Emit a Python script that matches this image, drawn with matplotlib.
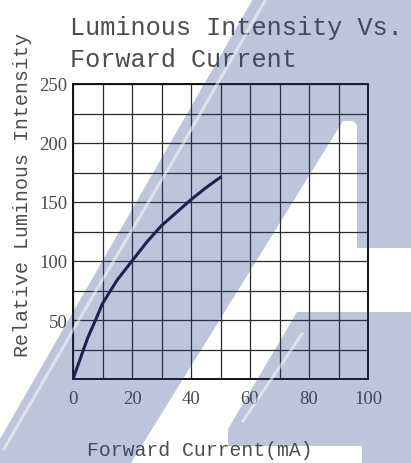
import numpy as np
import matplotlib
matplotlib.use("Agg")
import matplotlib.pyplot as plt
from matplotlib.patches import Polygon
from matplotlib.lines import Line2D

# data
current = [0, 2, 5, 8, 10, 15, 20, 25, 30, 35, 40, 45, 50]
intensity = [0, 14, 35, 52, 64, 84, 100, 116, 130, 141, 152, 162, 171]

x_ticks = [0, 10, 20, 30, 40, 50, 60, 70, 80, 90, 100]
x_labels = ["0", "", "20", "", "40", "", "60", "", "80", "", "100"]
y_ticks = [0, 25, 50, 75, 100, 125, 150, 175, 200, 225, 250]
y_labels = ["", "", "50", "", "100", "", "150", "", "200", "", "250"]

W, H = 411, 464
FONT = "Liberation Mono"
NUMFONT = "Liberation Serif"
TXT = "#4d4d4d"

fig = plt.figure(figsize=(W / 100, H / 100), dpi=100)
ax = fig.add_axes([73 / W, 1 - 380 / H, 295 / W, 295 / H])

ax.plot(current, intensity, color="#141a33", lw=2.2, solid_capstyle="round", zorder=3)

ax.set_xlim(0, 100)
ax.set_ylim(0, 250)
ax.set_xticks(x_ticks)
ax.set_xticklabels(x_labels)
ax.set_yticks(y_ticks)
ax.set_yticklabels(y_labels)
ax.tick_params(length=0, labelsize=13.5, labelcolor=TXT)
ax.tick_params(axis="x", pad=8)
ax.tick_params(axis="y", pad=4)
for lab in ax.get_xticklabels() + ax.get_yticklabels():
    lab.set_family(NUMFONT)
ax.grid(True, color="#2a2a2a", lw=0.9)
for s in ax.spines.values():
    s.set_linewidth(1.4)
    s.set_color("#111111")

# title and axis labels
fig.text(70 / W, 1 - 28 / H, "Luminous Intensity Vs.", family=FONT, size=18.2,
         color=TXT, ha="left", va="center")
fig.text(70 / W, 1 - 60 / H, "Forward Current", family=FONT, size=18.2,
         color=TXT, ha="left", va="center")
fig.text(200 / W, 1 - 451 / H, "Forward Current(mA)", family=FONT, size=14.2,
         color=TXT, ha="center", va="center")
fig.text(23 / W, 1 - 195 / H, "Relative Luminous Intensity", family=FONT, size=14.4,
         color=TXT, ha="center", va="center", rotation=90)


# watermark stripes (pixel coords, y down)
def px(pts):
    return [(x / W, 1 - y / H) for x, y in pts]


wm = (39 / 255, 65 / 255, 138 / 255)
band_a = [(253, 0), (411, 0), (411, 249), (357, 249), (357, 126), (353, 122),
          (343, 122), (131, 464), (0, 464), (0, 440)]
band_b = [(297, 313), (411, 313), (411, 464), (362, 464), (362, 447),
          (228, 447), (228, 430)]
for shape in (band_a, band_b):
    fig.add_artist(Polygon(px(shape), closed=True, transform=fig.transFigure,
                           facecolor=wm, edgecolor="none", alpha=0.3, zorder=10))

for pts in ([(266, 0), (180, 150), (97, 290), (4, 450)],
            [(302, 335), (243, 422)]):
    xs, ys = zip(*px(pts))
    fig.add_artist(Line2D(xs, ys, transform=fig.transFigure, color="white",
                          lw=2.2, alpha=0.5, zorder=11))

fig.savefig("out.png", dpi=100)
